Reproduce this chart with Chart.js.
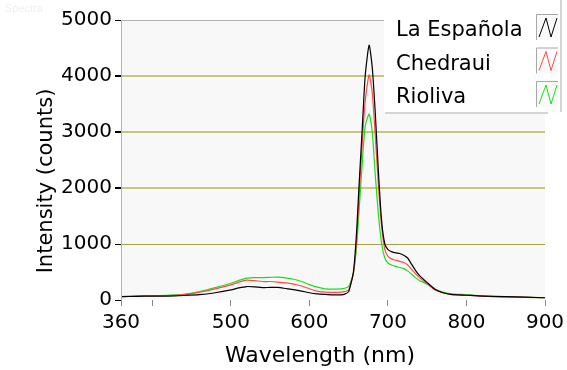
<!DOCTYPE html>
<html>
<head>
<meta charset="utf-8">
<script src="https://cdn.jsdelivr.net/npm/chart.js@4.4.0/dist/chart.umd.min.js"></script>
<style>
  html, body { margin: 0; padding: 0; background: #fff; }
  #wrap { width: 567px; height: 370px; }
</style>
</head>
<body>
<div id="wrap"><canvas id="chart1"></canvas></div>
<script>
// Spectra data
const wavelengths = [360, 380, 400, 420, 440, 460, 480, 500, 510, 520, 530, 540, 550, 560, 570, 580, 590, 600, 610, 620, 630, 640, 645, 650, 656, 660, 663, 667, 671, 676, 680, 684, 688, 692, 696, 700, 705, 710, 715, 720, 725, 730, 735, 740, 750, 760, 770, 780, 800, 820, 850, 900];
const laEspanola = [60, 65, 70, 70, 80, 95, 130, 180, 215, 240, 235, 220, 225, 225, 205, 185, 160, 130, 110, 100, 92, 92, 105, 150, 500, 1200, 2000, 3000, 4000, 4550, 4150, 3300, 2250, 1400, 1000, 900, 860, 840, 830, 800, 750, 640, 530, 440, 310, 190, 130, 100, 85, 70, 60, 40];
const chedraui = [60, 70, 75, 80, 95, 140, 200, 270, 320, 355, 345, 330, 330, 320, 305, 285, 250, 200, 160, 140, 135, 140, 150, 180, 480, 1050, 1800, 2750, 3550, 4020, 3700, 2900, 2000, 1300, 900, 780, 730, 710, 690, 670, 630, 550, 470, 400, 290, 180, 130, 100, 85, 70, 55, 40];
const rioliva = [60, 70, 75, 85, 100, 150, 220, 300, 350, 390, 400, 400, 405, 410, 395, 370, 330, 275, 230, 200, 195, 200, 210, 240, 480, 950, 1550, 2400, 3100, 3320, 3000, 2200, 1500, 1000, 750, 660, 620, 600, 580, 560, 520, 460, 400, 350, 280, 190, 140, 110, 95, 75, 55, 40];

const seriesNames = ['La Española', 'Chedraui', 'Rioliva'];
const seriesColors = ['#000000', '#ff4a4a', '#18e018'];

const xTicks = [360, 400, 500, 600, 700, 800, 900];
const xLabeled = [360, 500, 600, 700, 800, 900];
const yTicks = [0, 1000, 2000, 3000, 4000, 5000];

const toPoints = (ys) => wavelengths.map((x, i) => ({ x: x, y: ys[i] }));

// plot background, border, axis titles, legend box
const decor = {
    id: 'decor',
    beforeDraw(chart) {
        const { ctx, chartArea: a } = chart;
        ctx.save();
        ctx.fillStyle = '#f8f8f8';
        ctx.fillRect(a.left, a.top, a.right - a.left, a.bottom - a.top);
        ctx.restore();
    },
    afterDatasetsDraw(chart) {
        const { ctx, chartArea: a } = chart;
        ctx.save();
        ctx.strokeStyle = '#b4b4b4';
        ctx.lineWidth = 1;
        ctx.beginPath();
        ctx.moveTo(a.left + 0.5, a.bottom);
        ctx.lineTo(a.left + 0.5, a.top + 0.5);
        ctx.lineTo(a.right, a.top + 0.5);
        ctx.stroke();

        // faint caption
        ctx.fillStyle = '#f0f0f0';
        ctx.font = '11px "Liberation Sans"';
        ctx.textBaseline = 'top';
        ctx.fillText('Spectra', 5, 3);

        // axis titles
        ctx.fillStyle = '#000';
        ctx.textAlign = 'center';
        ctx.textBaseline = 'alphabetic';
        ctx.font = '22px "DejaVu Sans"';
        ctx.fillText('Wavelength (nm)', 320, 362);
        ctx.font = '21px "DejaVu Sans"';
        ctx.translate(52, 181);
        ctx.rotate(-Math.PI / 2);
        ctx.fillText('Intensity (counts)', 0, 0);
        ctx.restore();

        // legend
        ctx.save();
        ctx.fillStyle = '#ffffff';
        ctx.fillRect(384, 0, 176, 112);
        ctx.strokeStyle = '#d4d4d4';
        ctx.lineWidth = 2;
        ctx.beginPath();
        ctx.moveTo(385, 113);
        ctx.lineTo(548, 113);
        ctx.moveTo(561, 0);
        ctx.lineTo(561, 112);
        ctx.stroke();
        ctx.font = '21px "DejaVu Sans"';
        ctx.textBaseline = 'alphabetic';
        chart.data.datasets.forEach((ds, i) => {
            const top = 14 + i * 33.5;
            ctx.fillStyle = '#000';
            ctx.fillText(ds.label, 396, top + 22);
            ctx.fillStyle = '#fafafa';
            ctx.fillRect(536, top, 22, 26);
            ctx.strokeStyle = '#a8a8a8';
            ctx.lineWidth = 1;
            ctx.beginPath();
            ctx.moveTo(536.5, top + 26);
            ctx.lineTo(536.5, top + 0.5);
            ctx.lineTo(558, top + 0.5);
            ctx.stroke();
            ctx.strokeStyle = ds.borderColor;
            ctx.beginPath();
            ctx.moveTo(539, top + 23);
            ctx.lineTo(546, top + 4);
            ctx.lineTo(551, top + 23);
            ctx.lineTo(557, top + 4);
            ctx.stroke();
        });
        ctx.restore();
    }
};

const createChart = (ctx) => {
    new Chart(ctx, {
        type: 'line',
        data: {
            datasets: [laEspanola, chedraui, rioliva].map((ys, i) => ({
                label: seriesNames[i],
                data: toPoints(ys),
                borderColor: seriesColors[i],
                borderWidth: 1.2,
                pointRadius: 0,
                tension: 0.2,
                fill: false
            }))
        },
        options: {
            responsive: true,
            maintainAspectRatio: false,
            animation: false,
            layout: { padding: { left: 0, top: 20, right: 22, bottom: 0 } },
            scales: {
                x: {
                    type: 'linear',
                    min: 360,
                    max: 900,
                    afterBuildTicks: (axis) => { axis.ticks = xTicks.map(v => ({ value: v })); },
                    afterFit: (axis) => {
                        axis.height = 70;
                        axis.paddingLeft = 0;
                        axis.paddingRight = 0;
                    },
                    border: { display: false },
                    grid: { drawOnChartArea: false, tickLength: 6, color: '#888' },
                    ticks: {
                        color: '#000',
                        padding: 5,
                        maxRotation: 0,
                        autoSkip: false,
                        font: { family: 'DejaVu Sans', size: 20 },
                        callback: (v) => xLabeled.includes(v) ? String(v) : ''
                    }
                },
                y: {
                    min: 0,
                    max: 5000,
                    afterBuildTicks: (axis) => { axis.ticks = yTicks.map(v => ({ value: v })); },
                    afterFit: (axis) => {
                        axis.width = 121;
                        axis.paddingTop = 0;
                        axis.paddingBottom = 0;
                    },
                    border: { display: false },
                    grid: {
                        tickLength: 6,
                        tickColor: '#000',
                        color: (c) => {
                            const v = c.tick && c.tick.value;
                            if (v === 1000) return '#a4a048';
                            if (v === 2000 || v === 3000 || v === 4000) return '#c8c67c';
                            return 'rgba(0,0,0,0)';
                        },
                        lineWidth: (c) => {
                            const v = c.tick && c.tick.value;
                            return (v >= 2000 && v <= 4000) ? 2 : 1;
                        }
                    },
                    ticks: {
                        color: '#000',
                        padding: 3,
                        font: { family: 'DejaVu Sans', size: 20 },
                        callback: (v) => String(v)
                    }
                }
            },
            plugins: {
                legend: { display: false },
                tooltip: { enabled: false }
            }
        },
        plugins: [decor]
    });
};

window.onload = () => {
    const ctx1 = document.getElementById('chart1').getContext('2d');
    createChart(ctx1);
};
</script>
</body>
</html>
